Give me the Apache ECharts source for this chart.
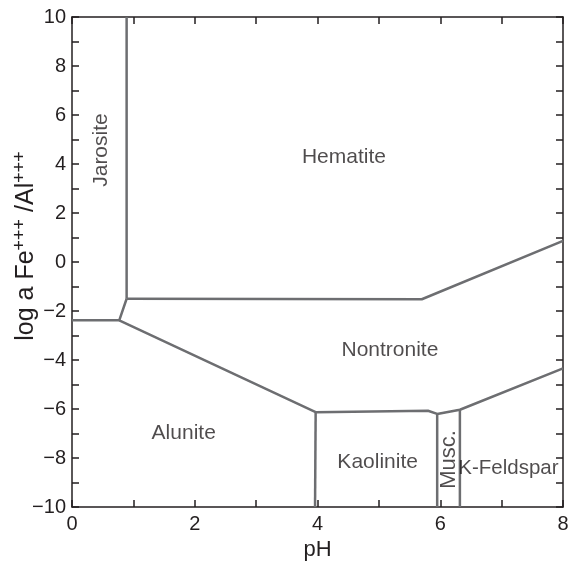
<!DOCTYPE html>
<html><head><meta charset="utf-8">
<script src="https://cdn.jsdelivr.net/npm/echarts@6/dist/echarts.min.js"></script>
<style>html,body{margin:0;padding:0;background:#fff}#c{width:580px;height:565px}</style>
</head><body><div id="c"></div>
<script>
// Phase boundaries [pH, log a Fe+++/Al+++]
const jarositeBoundary = [[0.89, 10], [0.89, -1.5]];
const hematiteBoundary = [[0.89, -1.5], [5.7, -1.52], [8, 0.86]];
const leftBoundary = [[0, -2.38], [0.77, -2.38], [0.89, -1.5]];
const nontroniteBoundary = [[0.77, -2.38], [3.97, -6.13], [5.8, -6.07], [5.95, -6.2], [6.32, -6.03], [8, -4.34]];
const kaoliniteBoundary = [[3.97, -6.13], [3.96, -10]];
const muscBoundary = [[5.95, -6.2], [5.95, -10]];
const kfeldsparBoundary = [[6.32, -6.03], [6.32, -10]];

const regionNames = ['Jarosite', 'Hematite', 'Nontronite', 'Alunite', 'Kaolinite', 'Musc.', 'K-Feldspar'];
const regionX = [0.48, 4.43, 5.18, 1.82, 4.98, 6.14, 7.11];
const regionY = [4.57, 4.27, -3.6, -7.0, -8.18, -8.06, -8.42];
const regionRotate = [90, 0, 0, 0, 0, 90, 0];
const regionFont = [21, 21, 21, 21, 21, 22, 20.5];

const xTicks = [0, 2, 4, 6, 8];
const yTicks = [-10, -8, -6, -4, -2, 0, 2, 4, 6, 8, 10];

const FONT = '"Liberation Sans", Arial, sans-serif';
const AX = '#231f20';
const LINE = '#6d6e71';

const fmt = v => String(v).replace('-', '\u2212');

function baseAxis(extra) {
  return Object.assign({
    type: 'value',
    interval: 2,
    axisLine: { show: true, onZero: false, lineStyle: { color: AX, width: 1.5 } },
    axisTick: { show: true, inside: true, length: 7, lineStyle: { color: AX, width: 1.5 } },
    minorTick: { show: true, splitNumber: 2, length: 7, lineStyle: { color: AX, width: 1.5 } },
    splitLine: { show: false },
    axisLabel: { show: false }
  }, extra);
}

const lines = [jarositeBoundary, hematiteBoundary, leftBoundary, nontroniteBoundary,
  kaoliniteBoundary, muscBoundary, kfeldsparBoundary].map(d => ({
  type: 'line', data: d, symbol: 'none', silent: true,
  lineStyle: { color: LINE, width: 2.5 }, z: 2
}));

const labels = {
  type: 'scatter', symbolSize: 0, silent: true,
  data: regionNames.map((n, i) => ({
    name: n, value: [regionX[i], regionY[i]],
    label: { rotate: regionRotate[i], fontSize: regionFont[i] }
  })),
  label: {
    show: true, position: 'inside', formatter: p => p.name,
    color: '#231f20', fontSize: 21, fontFamily: FONT
  }
};

const chart = echarts.init(document.getElementById('c'), null, { renderer: 'canvas' });
chart.setOption({
  backgroundColor: '#fff',
  animation: false,
  grid: { left: 72, right: 17, top: 17, bottom: 58, containLabel: false, outerBoundsMode: 'none' },
  xAxis: [
    baseAxis({ min: 0, max: 8, position: 'bottom',
      axisLabel: { show: true, color: AX, fontSize: 20, fontFamily: FONT, margin: 7,
        formatter: v => xTicks.includes(v) ? fmt(v) : '' },
      name: 'pH', nameLocation: 'middle', nameGap: 32,
      nameTextStyle: { color: AX, fontSize: 22, fontFamily: FONT } }),
    baseAxis({ min: 0, max: 8, position: 'top' })
  ],
  yAxis: [
    baseAxis({ min: -10, max: 10, position: 'left',
      axisLabel: { show: true, color: AX, fontSize: 20, fontFamily: FONT, margin: 6,
        formatter: v => yTicks.includes(v) ? fmt(v) : '' } }),
    baseAxis({ min: -10, max: 10, position: 'right' })
  ],
  graphic: [{
    type: 'text', x: 25, y: 246, rotation: Math.PI / 2, silent: true,
    style: {
      text: '{b|log a Fe}{s|+++}{b| /Al}{s|+++}',
      align: 'center', verticalAlign: 'middle',
      fill: AX, font: '25px ' + FONT,
      rich: {
        b: { fontSize: 25, fontFamily: FONT, fill: AX, color: AX, lineHeight: 27, verticalAlign: 'bottom' },
        s: { fontSize: 18, fontFamily: FONT, fill: AX, color: AX, lineHeight: 27, verticalAlign: 'top' }
      }
    }
  }],
  series: lines.concat([labels])
});
</script></body></html>
